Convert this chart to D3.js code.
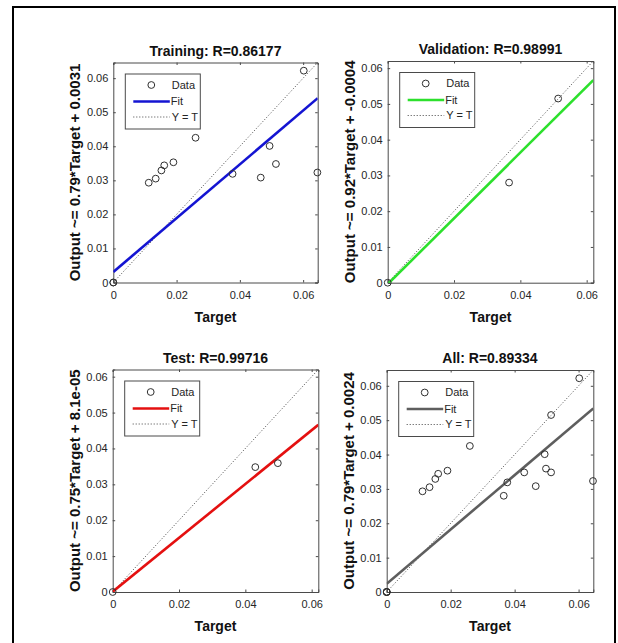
<!DOCTYPE html>
<html>
<head>
<meta charset="utf-8">
<script src="https://cdn.jsdelivr.net/npm/d3@7"></script>
<style>
  html, body { margin: 0; padding: 0; background: #ffffff; }
  svg { display: block; font-family: "Liberation Sans", Arial, sans-serif; }
</style>
</head>
<body>
<svg id="chart" width="618" height="643"></svg>
<script>
// ---------------- data ----------------
const panelTitles = ["Training: R=0.86177", "Validation: R=0.98991", "Test: R=0.99716", "All: R=0.89334"];
const yAxisLabels = [
  "Output ~= 0.79*Target + 0.0031",
  "Output ~= 0.92*Target + -0.0004",
  "Output ~= 0.75*Target + 8.1e-05",
  "Output ~= 0.79*Target + 0.0024"
];
const xAxisLabel = "Target";

const trainTarget = [0, 0, 0.0112, 0.0134, 0.0152, 0.0161, 0.0190, 0.0260, 0.0377, 0.0466, 0.0494, 0.0514, 0.0602, 0.0645];
const trainOutput = [0, 0, 0.0293, 0.0305, 0.0329, 0.0344, 0.0353, 0.0425, 0.0319, 0.0308, 0.0401, 0.0348, 0.0622, 0.0323];
const valTarget   = [0, 0.0366, 0.0514];
const valOutput   = [0, 0.0280, 0.0515];
const testTarget  = [0, 0.0430, 0.0498];
const testOutput  = [0, 0.0348, 0.0359];

const fitSlope     = [0.79, 0.92, 0.75, 0.79];
const fitIntercept = [0.0031, -0.0004, 0.000081, 0.0024];
const axisMax      = [0.0646, 0.062, 0.062, 0.0646];

const yTickValues = [0, 0.01, 0.02, 0.03, 0.04, 0.05, 0.06];
const yTickLabels = ["0", "0.01", "0.02", "0.03", "0.04", "0.05", "0.06"];
const xTickValues = [0, 0.02, 0.04, 0.06];
const xTickLabels = ["0", "0.02", "0.04", "0.06"];
const legendLabels = ["Data", "Fit", "Y = T"];

// ---------------- layout / style ----------------
const panelBoxes = [
  { x0: 113.3, x1: 317.7, y0: 62.5, y1: 282.5 },
  { x0: 387.7, x1: 593.3, y0: 61.0, y1: 282.7 },
  { x0: 112.7, x1: 318.3, y0: 369.5, y1: 592.0 },
  { x0: 386.7, x1: 593.3, y0: 370.0, y1: 592.0 }
];
const fitColors = ["#1414d2", "#2de02d", "#e41010", "#5e5e5e"];
const textColor = "#262626";
const axisColor = "#4a4a4a";

const allTarget = trainTarget.concat(valTarget, testTarget);
const allOutput = trainOutput.concat(valOutput, testOutput);
const targets = [trainTarget, valTarget, testTarget, allTarget];
const outputs = [trainOutput, valOutput, testOutput, allOutput];

const svg = d3.select("#chart");

// outer frame
svg.append("rect")
  .attr("x", 13).attr("y", 7)
  .attr("width", 602).attr("height", 660)
  .attr("fill", "none").attr("stroke", "#000").attr("stroke-width", 2);

panelTitles.forEach((title, i) => {
  const b = panelBoxes[i];
  const w = b.x1 - b.x0, h = b.y1 - b.y0;
  const x = d3.scaleLinear().domain([0, axisMax[i]]).range([0, w]);
  const y = d3.scaleLinear().domain([0, axisMax[i]]).range([h, 0]);

  const g = svg.append("g").attr("transform", `translate(${b.x0},${b.y0})`);
  const clipId = "clip" + i;
  g.append("clipPath").attr("id", clipId)
    .append("rect").attr("width", w).attr("height", h);

  // axes with inward ticks on all four sides
  const tl = 2.5;
  const bottom = g.append("g").attr("transform", `translate(0,${h})`)
    .call(d3.axisBottom(x).tickValues(xTickValues).tickSize(-tl).tickPadding(7)
      .tickFormat((d, k) => xTickLabels[k]));
  const left = g.append("g")
    .call(d3.axisLeft(y).tickValues(yTickValues).tickSize(-tl).tickPadding(5)
      .tickFormat((d, k) => yTickLabels[k]));
  const top = g.append("g")
    .call(d3.axisTop(x).tickValues(xTickValues).tickSize(-tl).tickFormat(""));
  const right = g.append("g").attr("transform", `translate(${w},0)`)
    .call(d3.axisRight(y).tickValues(yTickValues).tickSize(-tl).tickFormat(""));
  [bottom, left, top, right].forEach(a => {
    a.select(".domain").attr("stroke", axisColor).attr("stroke-width", 1);
    a.selectAll(".tick line").attr("stroke", axisColor);
    a.selectAll(".tick text").attr("fill", textColor)
      .style("font-size", "11px").style("font-family", "Liberation Sans, Arial, sans-serif");
  });
  bottom.selectAll(".tick text").attr("dy", "0.85em");

  const plot = g.append("g").attr("clip-path", `url(#${clipId})`);

  // Y = T dotted line
  plot.append("line")
    .attr("x1", x(0)).attr("y1", y(0))
    .attr("x2", x(axisMax[i])).attr("y2", y(axisMax[i]))
    .attr("stroke", "#444").attr("stroke-width", 1).attr("stroke-dasharray", "1,2");

  // fit line
  plot.append("line")
    .attr("x1", x(0)).attr("y1", y(fitIntercept[i]))
    .attr("x2", x(axisMax[i])).attr("y2", y(fitSlope[i] * axisMax[i] + fitIntercept[i]))
    .attr("stroke", fitColors[i]).attr("stroke-width", 2.6);

  // data circles
  g.append("g").selectAll("circle")
    .data(targets[i].map((t, k) => [t, outputs[i][k]]))
    .join("circle")
    .attr("cx", d => x(d[0])).attr("cy", d => y(d[1]))
    .attr("r", 3.4)
    .attr("fill", "none").attr("stroke", "#303030").attr("stroke-width", 1);

  // title
  g.append("text")
    .attr("x", w / 2).attr("y", -7)
    .attr("text-anchor", "middle")
    .style("font-size", "14px").style("font-weight", "bold")
    .attr("fill", "#111")
    .text(title);

  // x label
  g.append("text")
    .attr("x", w / 2).attr("y", h + 39)
    .attr("text-anchor", "middle")
    .style("font-size", "14px").style("font-weight", "bold")
    .attr("fill", "#111")
    .text(xAxisLabel);

  // y label
  g.append("text")
    .attr("transform", `translate(${-33},${h / 2}) rotate(-90)`)
    .attr("text-anchor", "middle")
    .style("font-size", "15px").style("font-weight", "bold")
    .attr("fill", "#111")
    .text(yAxisLabels[i]);

  // legend
  const lg = g.append("g").attr("transform", "translate(12,11.5)");
  lg.append("rect").attr("width", 75).attr("height", 55)
    .attr("fill", "#fff").attr("stroke", axisColor).attr("stroke-width", 1);
  const rowY = [11, 27.5, 43];
  lg.append("circle").attr("cx", 26).attr("cy", rowY[0]).attr("r", 3.4)
    .attr("fill", "none").attr("stroke", "#303030");
  lg.append("line").attr("x1", 8).attr("x2", 44.5).attr("y1", rowY[1]).attr("y2", rowY[1])
    .attr("stroke", fitColors[i]).attr("stroke-width", 2.6);
  lg.append("line").attr("x1", 8).attr("x2", 44.5).attr("y1", rowY[2]).attr("y2", rowY[2])
    .attr("stroke", "#444").attr("stroke-width", 1).attr("stroke-dasharray", "1,2");
  legendLabels.forEach((lab, k) => {
    lg.append("text").attr("x", k === 1 ? 45.5 : 46.5).attr("y", rowY[k]).attr("dy", "0.35em")
      .style("font-size", "11px").attr("fill", textColor).text(lab);
  });
});
</script>
</body>
</html>
